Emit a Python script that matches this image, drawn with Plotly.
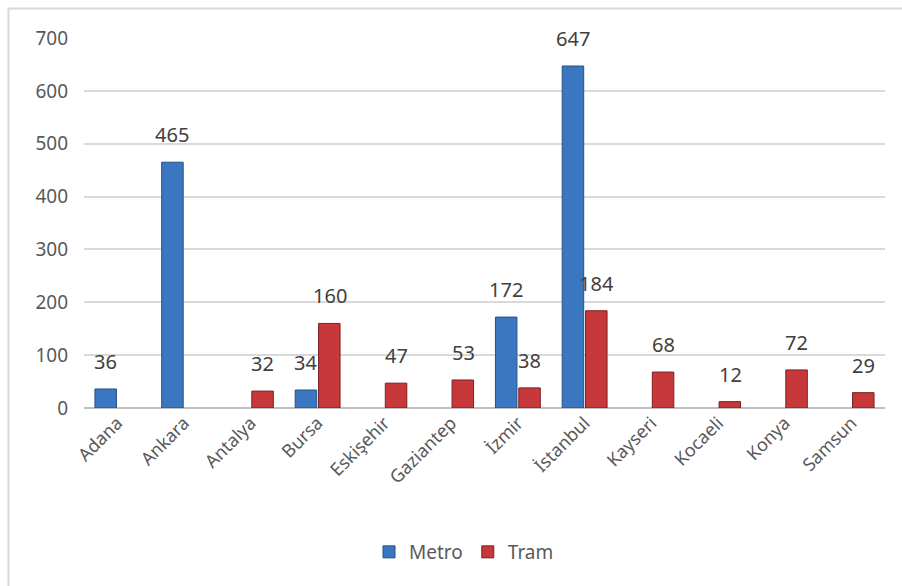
import plotly.graph_objects as go

cities = ["Adana", "Ankara", "Antalya", "Bursa", "Eskişehir", "Gaziantep", "İzmir",
          "İstanbul", "Kayseri", "Kocaeli", "Konya", "Samsun"]
metro = [36, 465, None, 34, None, None, 172, 647, None, None, None, None]
tram = [None, None, 32, 160, 47, 53, 38, 184, 68, 12, 72, 29]
y_ticks = [0, 100, 200, 300, 400, 500, 600, 700]

W, H = 902, 586
ML, MR, MT, MB = 84, 17, 38, 178

fig = go.Figure()
fig.add_trace(go.Bar(name="Metro", x=cities, y=metro,
                     marker=dict(color="#3B76C0", line=dict(color="#24508A", width=1))))
fig.add_trace(go.Bar(name="Tram", x=cities, y=tram,
                     marker=dict(color="#C6383A", line=dict(color="#7E1F21", width=1))))

annotations = []
for series, shift in ((metro, -12), (tram, 12)):
    for c, v in zip(cities, series):
        if v is None:
            continue
        annotations.append(dict(x=c, y=v, xref="x", yref="y", text=str(v),
                                showarrow=False, xshift=shift, yshift=12, yanchor="bottom",
                                font=dict(size=20, color="#404040", family="Noto Sans")))

def px_x(p):
    return (p - ML) / (W - ML - MR)

def px_y(p):
    return (H - MB - p) / (H - MT - MB)

shapes = [
    dict(type="line", xref="paper", yref="paper", x0=px_x(8), x1=px_x(W + 5),
         y0=px_y(8.5), y1=px_y(8.5), line=dict(color="#D9D9D9", width=2)),
    dict(type="line", xref="paper", yref="paper", x0=px_x(8.5), x1=px_x(8.5),
         y0=px_y(8), y1=px_y(H + 5), line=dict(color="#D9D9D9", width=2)),
]

fig.update_layout(
    width=W, height=H,
    margin=dict(l=ML, r=MR, t=MT, b=MB, autoexpand=False),
    paper_bgcolor="white", plot_bgcolor="white",
    barmode="group", bargap=0.3, bargroupgap=0.08,
    font=dict(family="Noto Sans", color="#595959", size=18),
    xaxis=dict(tickangle=-45, showgrid=False, showline=False, ticks="",
               tickfont=dict(size=18, color="#595959")),
    yaxis=dict(range=[0, 700], tickvals=y_ticks, showgrid=True, gridcolor="#D9D9D9",
               gridwidth=1.5, zeroline=True, zerolinecolor="#BFBFBF", zerolinewidth=2,
               ticks="", ticklabelstandoff=15,
               tickfont=dict(size=19, color="#595959")),
    legend=dict(orientation="h", x=px_x(464), xanchor="center", y=px_y(552), yanchor="middle",
                font=dict(size=19, color="#595959"), itemwidth=30),
    annotations=annotations,
    shapes=shapes,
)

fig.write_html("out.html")
